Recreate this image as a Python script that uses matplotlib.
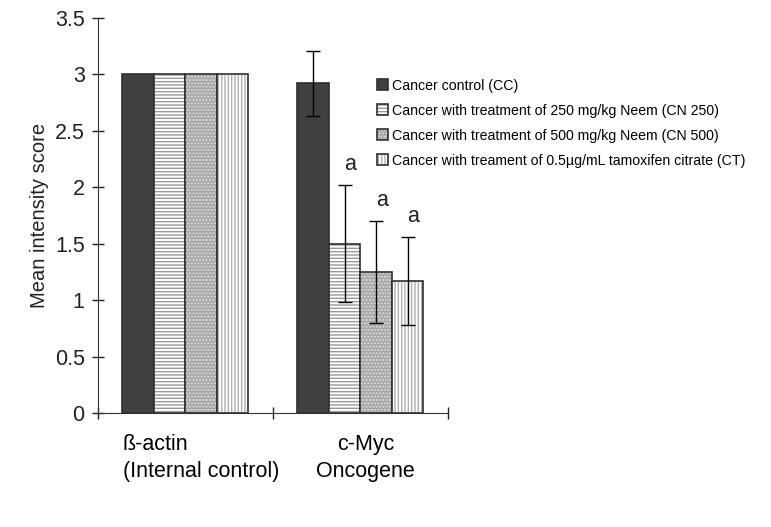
import numpy as np
import matplotlib.pyplot as plt
from matplotlib.legend_handler import HandlerTuple

plt.rcParams['font.family'] = ['Liberation Sans', 'DejaVu Sans']

groups = ['ß-actin\n(Internal control)', 'c-Myc\nOncogene']
series = ['Cancer control (CC)',
          'Cancer with treatment of 250 mg/kg Neem (CN 250)',
          'Cancer with treatment of 500 mg/kg Neem (CN 500)',
          'Cancer with treament of 0.5µg/mL tamoxifen citrate (CT)']
cc = [3.0, 2.92]
cn250 = [3.0, 1.50]
cn500 = [3.0, 1.25]
ct = [3.0, 1.17]
# error bars only for c-Myc
err_myc = [0.29, 0.52, 0.45, 0.39]
sig_myc = ['', 'a', 'a', 'a']

values = [cc, cn250, cn500, ct]
faces = ['#404040', 'white', '#a6a6a6', 'white']
hatches = [None, '-----', '.....', '|||||']
hcols = ['#404040', '#9a9a9a', '#dedede', '#b0b0b0']

fig = plt.figure(figsize=(7.71, 5.27), dpi=100)
ax = fig.add_axes([0.127, 0.216, 0.454, 0.75])

w = 0.18
x = np.arange(len(groups)) + 0.5
handles = []
for i in range(4):
    pos = x + (i - 1.5) * w
    b1 = ax.bar(pos, values[i], w, color=faces[i], hatch=hatches[i],
                edgecolor=hcols[i], linewidth=0)
    b2 = ax.bar(pos, values[i], w, fill=False, edgecolor='#303030', linewidth=1.2)
    handles.append((b1.patches[0], b2.patches[0]))
    ax.errorbar(pos[1], values[i][1], yerr=err_myc[i], color='black',
                capsize=5, elinewidth=1, capthick=1)
    if sig_myc[i]:
        ax.annotate(sig_myc[i], (pos[1], values[i][1] + err_myc[i]),
                    xytext=(4, 7), textcoords='offset points',
                    ha='center', va='bottom', fontsize=15.5, color='#222222')

ax.set_xlim(0, 2)
ax.set_ylim(0, 3.5)
ax.set_yticks(np.arange(0, 3.51, 0.5))
ax.set_yticklabels(['0', '0.5', '1', '1.5', '2', '2.5', '3', '3.5'])
ax.set_xticks([0, 1, 2])
ax.set_xticklabels([])
ax.set_xticks([0.59, 1.53], minor=True)
ax.set_xticklabels(groups, minor=True, linespacing=1.4)
ax.tick_params(axis='x', which='minor', length=0, pad=15, labelsize=15.5)
ax.tick_params(axis='both', which='major', direction='inout', length=9,
               width=1, labelsize=15.5, colors='#222222')
ax.tick_params(axis='y', pad=5)
lab = ax.get_xticklabels(minor=True)
lab[0].set_multialignment('left')
for s in ['top', 'right']:
    ax.spines[s].set_visible(False)
for s in ['left', 'bottom']:
    ax.spines[s].set_color('#333333')
ax.set_ylabel('Mean intensity score', fontsize=14.5, color='#222222', labelpad=4)

fig.legend(handles, series, loc='upper left', bbox_to_anchor=(0.472, 0.875),
           frameon=False, fontsize=10.2, handlelength=0.8, handleheight=0.8,
           handletextpad=0.3, labelspacing=0.78,
           handler_map={tuple: HandlerTuple(ndivide=1, pad=0)})

fig.savefig('out.png', dpi=100)
